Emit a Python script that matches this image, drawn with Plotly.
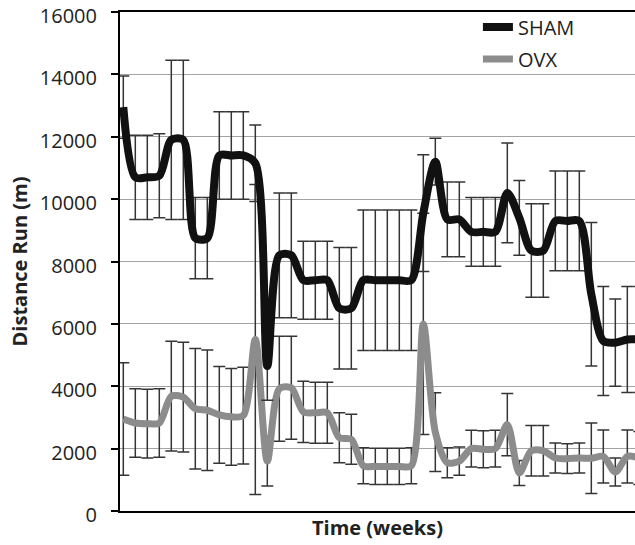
import plotly.graph_objects as go

# Weekly sample index along the time axis
weeks = list(range(44))

# SHAM group: mean distance run (m) and standard deviation
sham_mean = [12950, 10700, 10700, 10750, 11900, 11900, 8750, 8750, 11400, 11400,
             11400, 11150, 4650, 8200, 8200, 7400, 7400, 7400, 6500, 6500,
             7400, 7400, 7400, 7400, 7400, 9550, 11200, 9350, 9350, 8950,
             8950, 8950, 10200, 9400, 8350, 8350, 9300, 9300, 9300, 6950,
             5450, 5400, 5500, 5500]
sham_sd = [1000, 1350, 1350, 1350, 2550, 2550, 1300, 1300, 1400, 1400,
           1400, 1230, 1100, 2000, 2000, 1250, 1250, 1250, 1950, 1950,
           2250, 2250, 2250, 2250, 2250, 1870, 750, 1200, 1200, 1100,
           1100, 1100, 1600, 1200, 1500, 1500, 1600, 1600, 1600, 2300,
           1750, 1400, 1700, 1700]

# OVX group: mean distance run (m) and standard deviation
ovx_mean = [2950, 2820, 2800, 2820, 3680, 3650, 3280, 3230, 3080, 3020,
            3060, 5500, 1600, 3920, 3950, 3180, 3150, 3150, 2350, 2300,
            1450, 1430, 1430, 1430, 1450, 6000, 2530, 1550, 1600, 2000,
            1980, 2000, 2770, 1220, 1930, 1930, 1700, 1680, 1700, 1690,
            1750, 1250, 1750, 1700]
ovx_sd = [1800, 1100, 1100, 1100, 1760, 1760, 1930, 1930, 1550, 1550,
          1550, 4970, 800, 1680, 1650, 980, 980, 980, 800, 800,
          580, 580, 580, 580, 580, 3550, 1260, 480, 450, 590,
          590, 590, 1000, 400, 810, 810, 480, 480, 480, 1130,
          850, 450, 850, 850]

y_ticks = [0, 2000, 4000, 6000, 8000, 10000, 12000, 14000, 16000]

FONT = "Open Sans"
ERR = dict(type="data", visible=True, thickness=1.5, width=6, color="#353535")

fig = go.Figure()

fig.add_trace(go.Scatter(
    x=weeks, y=ovx_mean, name="OVX", mode="lines",
    line=dict(color="#8c8c8c", width=7, shape="spline", smoothing=0.8),
    error_y=dict(array=ovx_sd, **ERR),
    legend="legend2",
))

fig.add_trace(go.Scatter(
    x=weeks, y=sham_mean, name="SHAM", mode="lines",
    line=dict(color="#111111", width=8, shape="spline", smoothing=0.8),
    error_y=dict(array=sham_sd, **ERR),
    legend="legend",
))

legend_common = dict(
    xanchor="left", yanchor="middle", bgcolor="rgba(0,0,0,0)",
    font=dict(family=FONT, size=20, color="#222222"),
    itemwidth=30,
)

fig.update_layout(
    width=635, height=545,
    margin=dict(l=120, r=0, t=12, b=34),
    paper_bgcolor="white", plot_bgcolor="white",
    font=dict(family=FONT, color="#222222"),
    showlegend=True,
    legend=dict(x=0.695, y=0.97, **legend_common),
    legend2=dict(x=0.695, y=0.906, **legend_common),
    xaxis=dict(
        range=[-0.275, 42.64],
        showgrid=False, zeroline=False, showticklabels=False, ticks="",
        showline=True, mirror=True, linecolor="black", linewidth=2,
        title=dict(text="Time (weeks)", standoff=9,
                   font=dict(family=FONT, size=20, weight="bold", color="#222222")),
    ),
    yaxis=dict(
        range=[0, 16000], tickvals=y_ticks,
        ticktext=[str(v) for v in y_ticks],
        showgrid=True, gridcolor="#a3a3a3", gridwidth=1, zeroline=False,
        showline=True, linecolor="black", linewidth=2,
        ticks="outside", ticklen=7, tickwidth=1.5, tickcolor="black",
        ticklabelstandoff=10, ticklabelshift=4,
        tickfont=dict(family=FONT, size=20, color="#222222"),
        title=dict(text="Distance Run (m)", standoff=7,
                   font=dict(family=FONT, size=20, weight="bold", color="#222222")),
    ),
)

fig.write_html("out.html", config={"displayModeBar": False})
